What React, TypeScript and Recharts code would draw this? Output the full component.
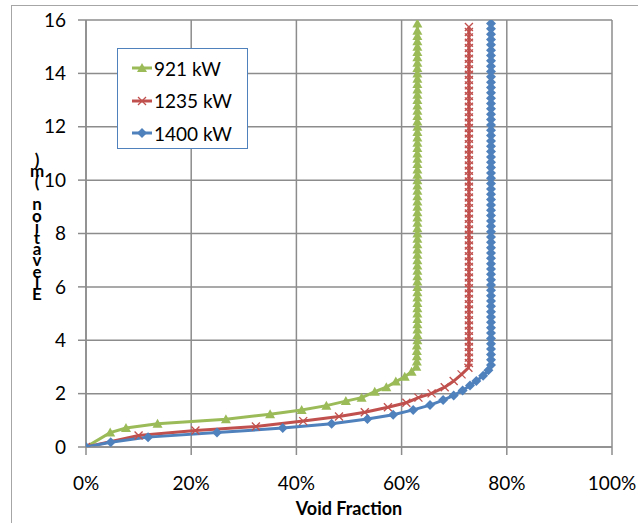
import React from 'react';
import { LineChart, Line, XAxis, YAxis, CartesianGrid, Legend, Label } from 'recharts';

// Void fraction (%) vs elevation (m)
const seriesNames = ['921 kW', '1235 kW', '1400 kW'];
const seriesColors = ['#9BBB59', '#C0504D', '#4F81BD'];

const series921: [number, number][] = [
  [0, 0], [4.6, 0.54], [7.6, 0.71], [13.6, 0.87], [26.6, 1.04], [35.0, 1.23], [41.0, 1.39],
  [45.7, 1.55], [49.4, 1.72], [52.4, 1.85], [54.9, 2.07], [57.1, 2.24], [58.9, 2.45],
  [60.6, 2.63], [61.9, 2.82], [62.8, 3.01],
  [62.9, 3.2], [62.9, 3.4], [62.9, 3.6], [62.9, 3.8], [63.0, 4.0], [63.0, 4.2], [63.0, 4.4],
  [63.0, 4.6], [63.0, 4.8], [63.0, 5.0], [63.0, 5.2], [63.0, 5.4], [63.0, 5.6], [63.0, 5.8],
  [63.0, 6.0], [63.0, 6.2], [63.0, 6.4], [63.0, 6.6], [63.0, 6.8], [63.0, 7.0], [63.0, 7.2],
  [63.0, 7.4], [63.0, 7.6], [63.0, 7.8], [63.0, 8.0], [63.0, 8.2], [63.0, 8.4], [63.0, 8.6],
  [63.0, 8.8], [63.0, 9.0], [63.0, 9.2], [63.0, 9.4], [63.0, 9.6], [63.0, 9.8], [63.0, 10.0],
  [63.0, 10.2], [63.0, 10.4], [63.0, 10.6], [63.0, 10.8], [63.0, 11.0], [63.0, 11.2], [63.0, 11.4],
  [63.0, 11.6], [63.0, 11.8], [63.0, 12.0], [63.0, 12.2], [63.0, 12.4], [63.0, 12.6], [63.0, 12.8],
  [63.0, 13.0], [63.0, 13.2], [63.0, 13.4], [63.0, 13.6], [63.0, 13.8], [63.0, 14.0], [63.0, 14.2],
  [63.0, 14.4], [63.0, 14.6], [63.0, 14.8], [63.0, 15.0], [63.0, 15.2], [63.0, 15.4], [63.0, 15.6],
  [63.0, 15.87],
];

const series1235: [number, number][] = [
  [0, 0], [10.0, 0.43], [20.8, 0.62], [32.3, 0.77], [41.3, 0.97], [48.1, 1.14], [53.0, 1.30],
  [57.4, 1.49], [60.9, 1.66], [63.2, 1.85], [65.7, 2.01], [68.2, 2.24], [69.9, 2.47],
  [71.4, 2.72], [72.7, 2.97],
  [72.8, 3.15], [72.8, 3.35], [72.8, 3.55], [72.8, 3.75], [72.8, 3.95], [72.8, 4.15], [72.8, 4.35],
  [72.8, 4.55], [72.8, 4.75], [72.8, 4.95], [72.8, 5.15], [72.8, 5.35], [72.8, 5.55], [72.8, 5.75],
  [72.8, 5.95], [72.8, 6.15], [72.8, 6.35], [72.8, 6.55], [72.8, 6.75], [72.8, 6.95], [72.8, 7.15],
  [72.8, 7.35], [72.8, 7.55], [72.8, 7.75], [72.8, 7.95], [72.8, 8.15], [72.8, 8.35], [72.8, 8.55],
  [72.8, 8.75], [72.8, 8.95], [72.8, 9.15], [72.8, 9.35], [72.8, 9.55], [72.8, 9.75], [72.8, 9.95],
  [72.8, 10.15], [72.8, 10.35], [72.8, 10.55], [72.8, 10.75], [72.8, 10.95], [72.8, 11.15], [72.8, 11.35],
  [72.8, 11.55], [72.8, 11.75], [72.8, 11.95], [72.8, 12.15], [72.8, 12.35], [72.8, 12.55], [72.8, 12.75],
  [72.8, 12.95], [72.8, 13.15], [72.8, 13.35], [72.8, 13.55], [72.8, 13.75], [72.8, 13.95], [72.8, 14.15],
  [72.8, 14.35], [72.8, 14.55], [72.8, 14.75], [72.8, 14.95], [72.8, 15.15], [72.8, 15.35], [72.8, 15.55],
  [72.8, 15.74],
];

const series1400: [number, number][] = [
  [0, 0], [4.7, 0.18], [11.8, 0.37], [24.9, 0.54], [37.4, 0.71], [46.7, 0.87], [53.5, 1.05],
  [58.4, 1.21], [62.2, 1.39], [65.4, 1.57], [67.9, 1.76], [69.9, 1.93], [71.6, 2.12], [73.0, 2.30],
  [74.2, 2.47], [75.5, 2.67], [76.5, 2.88], [77.0, 3.07],
  [77.0, 3.27], [77.0, 3.47], [77.0, 3.67], [77.0, 3.87], [77.0, 4.07], [77.0, 4.27], [77.0, 4.47],
  [77.0, 4.67], [77.0, 4.87], [77.0, 5.07], [77.0, 5.27], [77.0, 5.47], [77.0, 5.67], [77.0, 5.87],
  [77.0, 6.07], [77.0, 6.27], [77.0, 6.47], [77.0, 6.67], [77.0, 6.87], [77.0, 7.07], [77.0, 7.27],
  [77.0, 7.47], [77.0, 7.67], [77.0, 7.87], [77.0, 8.07], [77.0, 8.27], [77.0, 8.47], [77.0, 8.67],
  [77.0, 8.87], [77.0, 9.07], [77.0, 9.27], [77.0, 9.47], [77.0, 9.67], [77.0, 9.87], [77.0, 10.07],
  [77.0, 10.27], [77.0, 10.47], [77.0, 10.67], [77.0, 10.87], [77.0, 11.07], [77.0, 11.27], [77.0, 11.47],
  [77.0, 11.67], [77.0, 11.87], [77.0, 12.07], [77.0, 12.27], [77.0, 12.47], [77.0, 12.67], [77.0, 12.87],
  [77.0, 13.07], [77.0, 13.27], [77.0, 13.47], [77.0, 13.67], [77.0, 13.87], [77.0, 14.07], [77.0, 14.27],
  [77.0, 14.47], [77.0, 14.67], [77.0, 14.87], [77.0, 15.07], [77.0, 15.27], [77.0, 15.47], [77.0, 15.67],
  [77.0, 15.87],
];

const xTicks = [0, 20, 40, 60, 80, 100];
const yTicks = [0, 2, 4, 6, 8, 10, 12, 14, 16];
const xTitle = 'Void Fraction';
const yTitle = 'Elevation (m)';

const toRows = (s: [number, number][]) => s.map(([x, y]) => ({ x, y }));

const FONT = 'Lato, "Open Sans", sans-serif';
const GRID = '#8c8c8c';

const Triangle = (color: string) => (props: any) => {
  const { cx, cy, index } = props;
  if (cx == null || cy == null) return <g key={`t${index}`} />;
  return (
    <polygon key={`t${index}`} points={`${cx},${cy - 5} ${cx - 5},${cy + 4} ${cx + 5},${cy + 4}`} fill={color} />
  );
};
const Cross = (color: string) => (props: any) => {
  const { cx, cy, index } = props;
  if (cx == null || cy == null) return <g key={`c${index}`} />;
  return (
    <g key={`c${index}`}>
      <line x1={cx - 4} y1={cy - 4} x2={cx + 4} y2={cy + 4} stroke={color} strokeWidth={1.3} />
      <line x1={cx - 4} y1={cy + 4} x2={cx + 4} y2={cy - 4} stroke={color} strokeWidth={1.3} />
    </g>
  );
};
const Diamond = (color: string) => (props: any) => {
  const { cx, cy, index } = props;
  if (cx == null || cy == null) return <g key={`d${index}`} />;
  return (
    <polygon key={`d${index}`} points={`${cx},${cy - 5} ${cx + 5},${cy} ${cx},${cy + 5} ${cx - 5},${cy}`} fill={color} />
  );
};

const markerFns = [Triangle, Cross, Diamond];

const LegendBox = () => (
  <div
    style={{
      width: 131,
      height: 101,
      boxSizing: 'border-box',
      border: '1.5px solid #4F81BD',
      background: '#fff',
      paddingTop: 3,
      fontFamily: FONT,
    }}
  >
    {seriesNames.map((name, i) => {
      const M = markerFns[i](seriesColors[i]);
      return (
        <div key={name} style={{ height: 32.5, display: 'flex', alignItems: 'center' }}>
          <svg width={22} height={14} style={{ marginLeft: 13, flex: 'none' }}>
            <line x1={1} y1={7} x2={21} y2={7} stroke={seriesColors[i]} strokeWidth={3} />
            {M({ cx: 11, cy: 7, index: i })}
          </svg>
          <span style={{ fontSize: 19, color: '#000', marginLeft: 1, whiteSpace: 'nowrap' }}>{name}</span>
        </div>
      );
    })}
  </div>
);

// Rendered as in the reference: glyphs stacked bottom-to-top, "E" lowest.
const YTitle = () => {
  const chars = yTitle.split('');
  return (
    <text textAnchor="middle" fontFamily={FONT} fontWeight="bold" fontSize={17} fill="#000">
      {chars.map((ch, i) => (
        <tspan key={i} x={37} y={300 - i * 11.2}>
          {ch === ' ' ? '\u00a0' : ch}
        </tspan>
      ))}
    </text>
  );
};

const XTitle = (props: any) => {
  const vb = props.viewBox || {};
  return (
    <text
      x={vb.x + vb.width / 2}
      y={515}
      textAnchor="middle"
      fontFamily={FONT}
      fontWeight="bold"
      fontSize={18}
      fill="#000"
    >
      {xTitle}
    </text>
  );
};

const allSeries = [series921, series1235, series1400];

export default function App() {
  return (
    <div
      style={{
        position: 'absolute',
        left: 0,
        top: 0,
        width: 638,
        height: 523,
        overflow: 'hidden',
        background: '#fff',
        fontFamily: FONT,
      }}
    >
      <div
        style={{
          position: 'absolute',
          left: 11,
          top: 5,
          width: 640,
          height: 530,
          borderLeft: '1.5px solid #a6a6a6',
          borderTop: '1.5px solid #a6a6a6',
        }}
      />
      <div style={{ position: 'absolute', left: 0, top: 0 }}>
        <LineChart width={638} height={523} margin={{ top: 20, right: 26, bottom: 0, left: 0 }}>
          <CartesianGrid stroke={GRID} strokeWidth={1.5} horizontalValues={yTicks} verticalValues={xTicks} />
          <XAxis
            type="number"
            dataKey="x"
            domain={[0, 100]}
            ticks={xTicks}
            tickFormatter={(v: number) => `${v}%`}
            height={76}
            tickSize={8}
            tickMargin={22}
            axisLine={{ stroke: GRID, strokeWidth: 1.5 }}
            tickLine={{ stroke: GRID, strokeWidth: 1.5 }}
            tick={{ fill: '#000', fontSize: 19, fontFamily: FONT }}
            allowDataOverflow
          >
            <Label content={<XTitle />} />
          </XAxis>
          <YAxis
            type="number"
            domain={[0, 16]}
            ticks={yTicks}
            width={86}
            tickSize={8}
            tickMargin={12}
            axisLine={{ stroke: GRID, strokeWidth: 1.5 }}
            tickLine={{ stroke: GRID, strokeWidth: 1.5 }}
            tick={{ fill: '#000', fontSize: 19, fontFamily: FONT }}
            allowDataOverflow
          >
            <Label content={<YTitle />} />
          </YAxis>
          <Legend
            layout="vertical"
            align="center"
            verticalAlign="middle"
            content={<LegendBox />}
            wrapperStyle={{ left: 117, top: 48, width: 131, height: 101 }}
          />
          {allSeries.map((s, i) => (
            <Line
              key={seriesNames[i]}
              name={seriesNames[i]}
              data={toRows(s)}
              dataKey="y"
              type="linear"
              stroke={seriesColors[i]}
              strokeWidth={3}
              dot={markerFns[i](seriesColors[i])}
              activeDot={false}
              isAnimationActive={false}
            />
          ))}
        </LineChart>
      </div>
    </div>
  );
}
